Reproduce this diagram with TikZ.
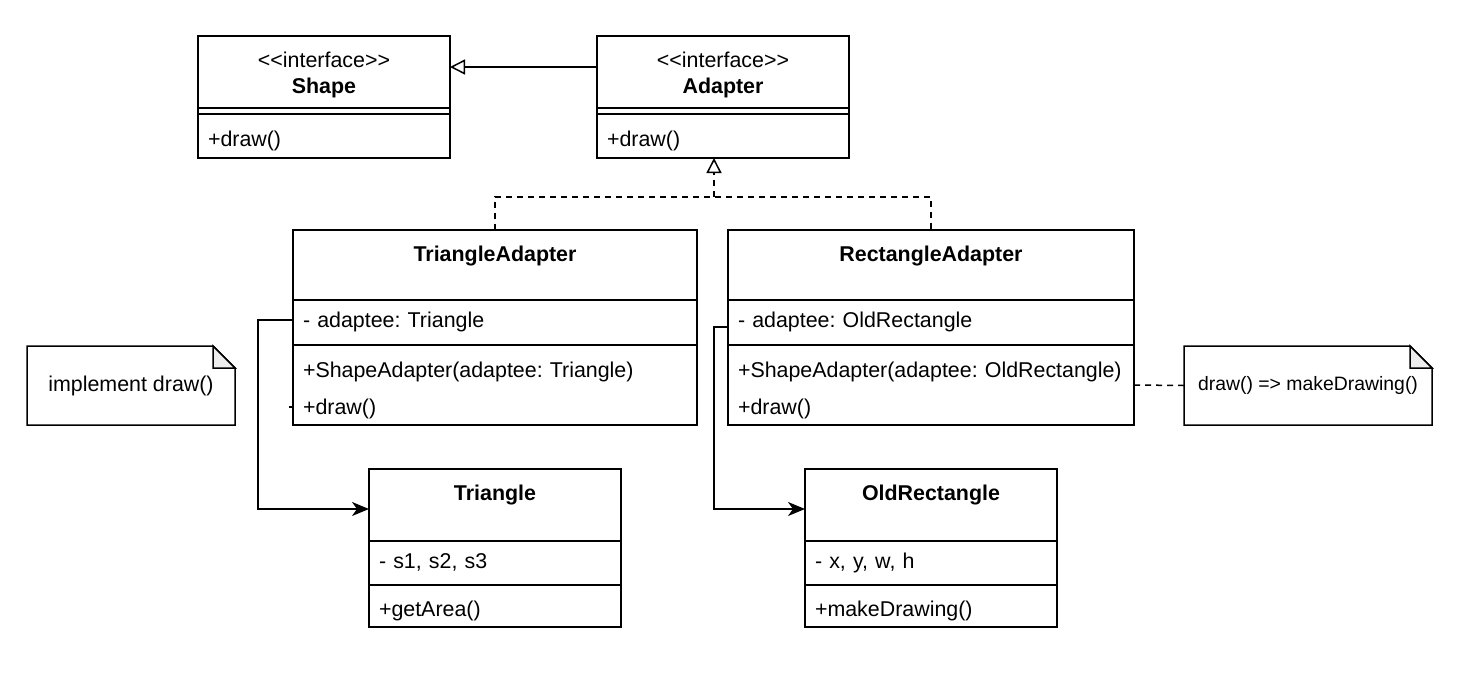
\documentclass[tikz,border=0pt]{standalone}
\usepackage{fontspec}
\setmainfont{Liberation Sans}
\frenchspacing
\usetikzlibrary{positioning,arrows.meta}
\def\fold{22pt}
\definecolor{foldgray}{HTML}{EEEEEE}
\tikzstyle{part}=[draw,line width=1.5pt,outer sep=0pt,inner xsep=10pt,inner ysep=0pt]
\tikzstyle{row}=[align=left]
\tikzstyle{gen}=[line width=1.5pt,-{Triangle[open,length=15pt,width=15pt]}]
\tikzstyle{assoc}=[line width=1.5pt,-{Stealth[length=17pt,width=14pt,inset=5pt]}]
\tikzstyle{dashline}=[line width=1.5pt,dash pattern=on 6pt off 5pt]
\tikzstyle{real}=[gen,dash pattern=on 6pt off 5pt]
\tikzstyle{note}=[inner sep=0pt,outer sep=0pt]
\newcommand{\newPart}[4]{\node[part,#3](#1)[#4]{#2};}
\newcommand{\newNote}[3]{\node[note,#3](#1){#2};
  \draw[line width=1.5pt] (#1.north west) -- ([xshift=-\fold]#1.north east) -- ([yshift=-\fold]#1.north east) -- (#1.south east) -- (#1.south west) -- cycle;
  \draw[line width=1.5pt,fill=foldgray] ([xshift=-\fold]#1.north east) -- ([xshift=-\fold,yshift=-\fold]#1.north east) -- ([yshift=-\fold]#1.north east) -- cycle;}

\begin{document}
\begin{tikzpicture}[x=1pt,y=-1pt,font=\fontsize{21.4}{26}\selectfont]
  \useasboundingbox (0,0) rectangle (1476,686);
  % interfaces
  \newPart{shH}{<{}<interface>{}>\\\textbf{Shape}}{align=center,minimum width=252,text height=57pt,text depth=15pt,anchor=north west}{at={(198,36)}}
  \newPart{shS}{}{minimum width=252,minimum height=6}{below=0pt of shH}
  \newPart{shM}{+draw()}{row,text width=232,text height=32pt,text depth=12pt}{below=0pt of shS}
  \newPart{adH}{<{}<interface>{}>\\\textbf{Adapter}}{align=center,minimum width=252,text height=57pt,text depth=15pt,anchor=north west}{at={(597,36)}}
  \newPart{adS}{}{minimum width=252,minimum height=6}{below=0pt of adH}
  \newPart{adM}{+draw()}{row,text width=232,text height=32pt,text depth=12pt}{below=0pt of adS}
  % adapters
  \newPart{taH}{\textbf{TriangleAdapter}}{align=center,minimum width=404,text height=31pt,text depth=39pt,anchor=north west}{at={(293,230)}}
  \newPart{taA}{- adaptee: Triangle}{row,text width=384,text height=27pt,text depth=18pt}{below=0pt of taH}
  \newPart{taM}{+ShapeAdapter(adaptee: Triangle)\\[11pt]+draw()}{row,text width=384,text height=32pt,text depth=48pt}{below=0pt of taA}
  \newPart{raH}{\textbf{RectangleAdapter}}{align=center,minimum width=406,text height=31pt,text depth=39pt,anchor=north west}{at={(728,230)}}
  \newPart{raA}{- adaptee: OldRectangle}{row,text width=386,text height=27pt,text depth=18pt}{below=0pt of raH}
  \newPart{raM}{+ShapeAdapter(adaptee: OldRectangle)\\[11pt]+draw()}{row,text width=386,text height=32pt,text depth=48pt}{below=0pt of raA}
  % adaptees
  \newPart{triH}{\textbf{Triangle}}{align=center,minimum width=252,text height=31pt,text depth=41pt,anchor=north west}{at={(369,469)}}
  \newPart{triA}{- s1, s2, s3}{row,text width=232,text height=27pt,text depth=17pt}{below=0pt of triH}
  \newPart{triM}{+getArea()}{row,text width=232,text height=31pt,text depth=11pt}{below=0pt of triA}
  \newPart{orH}{\textbf{OldRectangle}}{align=center,minimum width=252,text height=31pt,text depth=41pt,anchor=north west}{at={(805,469)}}
  \newPart{orA}{- x, y, w, h}{row,text width=232,text height=27pt,text depth=17pt}{below=0pt of orH}
  \newPart{orM}{+makeDrawing()}{row,text width=232,text height=31pt,text depth=11pt}{below=0pt of orA}
  % notes
  \newNote{nImpl}{implement draw()}{minimum width=208,minimum height=79,anchor=north west,at={(27,346)}}
  \newNote{nDraw}{draw() => makeDrawing()}{font=\fontsize{19.4}{24}\selectfont,minimum width=248,minimum height=79,anchor=north west,at={(1184,346)}}
  % connectors
  \draw[gen] ([yshift=5pt]adH.west) -- ([yshift=5pt]shH.east);
  \coordinate (join) at (714,197);
  \draw[dashline] (taH.north) |- (join) -| (raH.north);
  \draw[real] (join) -- (join |- adM.south);
  \draw[assoc] ([yshift=2.5pt]taA.west) -- ++(-35,0) |- ([yshift=-4pt]triH.west);
  \draw[assoc] ([yshift=-4.5pt]raA.west) -- ++(-14,0) |- ([yshift=-4pt]orH.west);
  \draw[dashline] (raM.east) -- (nDraw.west);
  \draw[dashline] ([yshift=-22pt]taM.west) -- ++(-4,0);
\end{tikzpicture}
\end{document}
